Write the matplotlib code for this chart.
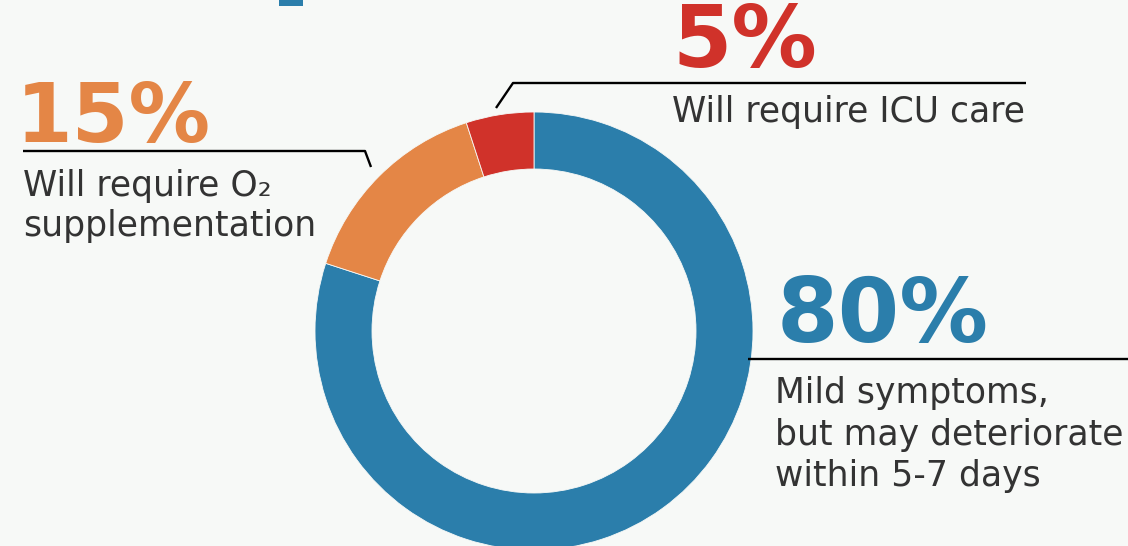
import matplotlib
matplotlib.use("Agg")
import matplotlib.pyplot as plt
from matplotlib.patches import Rectangle
from matplotlib.textpath import TextPath
from matplotlib.font_manager import FontProperties

# ---- data ----
categories = ["Mild symptoms,\nbut may deteriorate\nwithin 5-7 days",
              "Will require O\u2082\nsupplementation",
              "Will require ICU care"]
values = [80, 15, 5]
pct_labels = ["80%", "15%", "5%"]
colors = ["#2b7eab", "#e48646", "#d0322a"]

W, H = 1128, 546
BG = "#f7f9f7"
TXT = "#333333"

fig = plt.figure(figsize=(W / 100, H / 100), dpi=100, facecolor=BG)
ax = fig.add_axes([0, 0, 1, 1])
ax.set_facecolor(BG)

def Y(y):
    return H - y

ax.pie(values, colors=colors, startangle=90, counterclock=False,
       center=(534, Y(331)), radius=219,
       wedgeprops=dict(width=57, edgecolor=BG, linewidth=0.6))
ax.set_xlim(0, W)
ax.set_ylim(0, H)
ax.set_aspect("equal")
ax.axis("off")

# small cut-off title fragment at the top
ax.add_patch(Rectangle((279, Y(6)), 24, 8, color=colors[0], lw=0))

# leader lines
lw = 1.7
ax.plot([496, 513, 1026], [Y(108), Y(83), Y(83)], color="black", lw=lw, solid_capstyle="butt")
ax.plot([23, 365, 371], [Y(151), Y(151), Y(167)], color="black", lw=lw, solid_capstyle="butt")
ax.plot([748, 1128], [Y(359), Y(359)], color="black", lw=lw, solid_capstyle="butt")

PCT_PROP = FontProperties(family="DejaVu Sans", weight="bold")
LBL_FONT = "DejaVu Sans"

# percentage texts: (left x, baseline y, ink width, ink height)
pct_pos = [(777, 342, 200, 67), (16, 142, 173, 69), (672, 67, 132, 65)]
# label lines: (x, first baseline, line step)
lbl_pos = [(775, 403, 41.7), (23, 196, 40), (672, 122, 40)]

PX_PER_PT = 100 / 72

fig.canvas.draw()
r = fig.canvas.get_renderer()

def fit(text, family, weight, target_w, base=40):
    t = ax.text(0, 0, text, fontsize=base, family=family, weight=weight)
    w = t.get_window_extent(r).width
    t.remove()
    return base * target_w / w

lbl_size = 0.99 * fit("Will require ICU care", LBL_FONT, "medium", 357)

for (x, yb, tw, th), lab, c in zip(pct_pos, pct_labels, colors):
    ext = TextPath((0, 0), lab, size=100, prop=PCT_PROP).get_extents()
    sw = tw / (ext.width * PX_PER_PT / 100)
    sh = th / (ext.y1 * PX_PER_PT / 100)
    s = min(sw * 1.06, (sw * sh) ** 0.5)
    ax.text(x, Y(yb), lab, fontproperties=PCT_PROP, fontsize=s,
            color=c, ha="left", va="baseline")

for (x, yb, step), cat in zip(lbl_pos, categories):
    for i, line in enumerate(cat.split("\n")):
        ax.text(x, Y(yb + i * step), line, fontsize=lbl_size, family=LBL_FONT,
                weight="medium", color=TXT, ha="left", va="baseline")

fig.savefig("out.png", dpi=100, facecolor=BG)
